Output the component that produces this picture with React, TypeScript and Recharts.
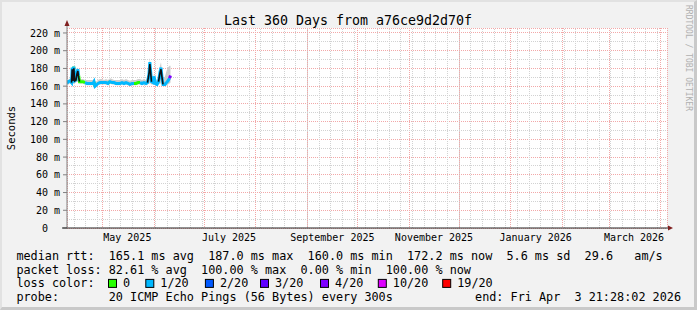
import { Area, CartesianGrid, ComposedChart, Line, ReferenceLine, XAxis, YAxis } from "recharts";

const FONT = "'DejaVu Sans Mono', monospace";
const START = Date.UTC(2025, 3, 9, 19, 0);
const DAY = 86400000;
const toDay = (iso: string) => (Date.parse(iso + "T00:00:00Z") - START) / DAY;

const Y_MAX = 225.6;
const yTicks = [0, 20, 40, 60, 80, 100, 120, 140, 160, 180, 200, 220];
const yMinor = [10, 30, 50, 70, 90, 110, 130, 150, 170, 190, 210];

const monthStarts = [
    "2025-05-01", "2025-06-01", "2025-07-01", "2025-08-01", "2025-09-01", "2025-10-01",
    "2025-11-01", "2025-12-01", "2026-01-01", "2026-02-01", "2026-03-01", "2026-04-01",
];
const labelDates = ["2025-05-16", "2025-07-16", "2025-09-16", "2025-11-16", "2026-01-16", "2026-03-16"];
const xLabels = ["May 2025", "July 2025", "September 2025", "November 2025", "January 2026", "March 2026"];
const firstMonday = "2025-04-14";

const LOSS_LEVELS = ["0", "1/20", "2/20", "3/20", "4/20", "10/20", "19/20"];
const LOSS_COLORS = ["#26ff00", "#00b8ff", "#0059ff", "#5e00ff", "#7e00ff", "#dd00ff", "#ff0000"];

// days since graph start
const sampleDays = [
    0.0, 0.7, 1.8, 2.7, 3.1, 3.6, 4.1, 4.6, 5.4, 6.0, 6.5, 7.0, 7.5, 8.4, 9.6, 10.8, 12.0, 13.2, 14.4, 15.6,
    16.2, 16.8, 17.4, 18.6, 19.8, 21.0, 22.2, 23.4, 24.6, 25.8, 27.0, 28.2, 29.4, 30.6, 31.8, 33.0, 34.2, 35.4,
    36.6, 37.8, 39.0, 40.2, 41.4, 42.6, 43.8, 45.0, 46.2, 47.4, 48.3, 49.2, 49.7, 50.2, 50.7, 51.6, 52.2, 53.1,
    54.0, 54.9, 55.8, 56.4, 57.0, 57.6, 58.8, 59.7, 60.6, 61.5, 62.1,
];
// median rtt, ms
const medianMs = [
    163, 165, 166, 164, 181, 166, 182, 166, 167, 176, 179, 172, 165, 165, 165, 164, 163, 163, 163, 163,
    165, 160, 161, 163, 164, 164, 164, 164, 163, 165, 164, 164, 163, 163, 163, 164, 163, 164,
    163, 162, 163, 163, 163, 164, 164, 163, 164, 163, 164, 174, 187, 176, 165, 164, 171, 163,
    162, 165, 176, 181, 170, 162, 162, 164, 166, 169, 172,
];
// index into LOSS_LEVELS
const lossIdx = [
    1, 1, 1, 1, 1, 1, 0, 1, 1, 1, 1, 1, 0, 0, 0, 0, 1, 1, 1, 1,
    1, 0, 1, 1, 1, 1, 1, 1, 1, 0, 1, 1, 1, 1, 1, 1, 1, 1,
    1, 1, 1, 1, 0, 0, 0, 1, 1, 1, 1, 1, 1, 1, 1, 1, 1, 1,
    1, 1, 1, 1, 1, 1, 1, 1, 1, 1, 4,
];
const smokeLow = [
    161, 162, 163, 162, 162, 163, 163, 163, 164, 165, 165, 164, 163, 163, 163, 162, 161, 161, 161, 161,
    162, 158, 159, 161, 162, 162, 162, 162, 161, 163, 162, 162, 161, 161, 161, 162, 161, 162,
    161, 160, 161, 161, 161, 162, 162, 161, 162, 161, 162, 163, 163, 163, 162, 162, 162, 161,
    160, 162, 163, 163, 162, 160, 160, 161, 162, 163, 164,
];
const smokeHigh = [
    166, 167, 169, 168, 183, 171, 184, 170, 170, 179, 181, 175, 168, 168, 168, 167, 167, 167, 167, 167,
    168, 165, 165, 167, 168, 168, 167, 168, 167, 169, 168, 167, 167, 167, 167, 168, 167, 168,
    167, 166, 167, 167, 167, 168, 168, 167, 168, 167, 169, 179, 192, 181, 170, 169, 174, 168,
    167, 170, 183, 187, 177, 169, 171, 177, 181, 183, 183,
];
// dense (dark) smoke along the spikes
const darkMs = [
    null, null, null, 164, 179, 166, 180, 166, 167, 174, 177, 170, 165, null, null, null, null, null, null, null,
    null, null, null, null, null, null, null, null, null, null, null, null, null, null, null, null, null, null,
    null, null, null, null, null, null, null, null, null, null, 164, 174, 185, 175, 165, null, null, null,
    null, 165, 175, 179, 170, 162, null, null, null, null, null,
];

const rows = sampleDays.map((day, i) => {
    const row: Record<string, unknown> = {
        day,
        smoke: [smokeLow[i], smokeHigh[i]],
        dark: darkMs[i],
    };
    LOSS_LEVELS.forEach((_, l) => {
        row["m" + l] = lossIdx[i] === l || lossIdx[i + 1] === l ? medianMs[i] : null;
    });
    return row;
});
const usedLevels = LOSS_LEVELS.map((_, l) => l).filter((l) => lossIdx.includes(l));

const monthDays = monthStarts.map(toDay);
const labelDays = labelDates.map(toDay);
const weekDays: number[] = [];
for (let d = toDay(firstMonday); d < 360; d += 7) weekDays.push(d);

function XTick({ x, y, payload }: any) {
    const idx = labelDays.indexOf(payload.value);
    return (
        <text x={x} y={y + 13} textAnchor="middle" fontFamily={FONT} fontSize={10} fill="#000">
            {xLabels[idx]}
        </text>
    );
}

const LEG = {
    fontFamily: FONT,
    fontSize: 11.8,
    fill: "#000",
    dominantBaseline: "central",
    xmlSpace: "preserve",
    style: { whiteSpace: "pre" },
} as const;
const ROW_Y = [255.8, 269.6, 283.4, 297.2];
const BOX_X = [108, 145.3, 204.9, 260, 320, 377.8, 442.2];

export default function App() {
    return (
        <div style={{ position: "absolute", left: 0, top: 0, width: 697, height: 310, background: "#f2f2f2" }}>
            <ComposedChart width={697} height={310} data={rows} margin={{ top: 28, right: 30, bottom: 0, left: 0 }}>
                <CartesianGrid fill="#ffffff" horizontal={false} vertical={false} />
                <CartesianGrid
                    xAxisId="months"
                    stroke="#f2a8a8"
                    strokeDasharray="1 1"
                    shapeRendering="crispEdges"
                />
                <XAxis
                    xAxisId="months"
                    dataKey="day"
                    type="number"
                    domain={[0, 360]}
                    ticks={monthDays}
                    interval={0}
                    allowDataOverflow
                    hide
                />
                <XAxis
                    dataKey="day"
                    type="number"
                    domain={[0, 360]}
                    ticks={labelDays}
                    interval={0}
                    allowDataOverflow
                    height={82}
                    tickSize={0}
                    tickMargin={0}
                    tickLine={false}
                    axisLine={{ stroke: "#222" }}
                    tick={<XTick />}
                />
                <YAxis
                    type="number"
                    domain={[0, Y_MAX]}
                    ticks={yTicks}
                    interval={0}
                    allowDataOverflow
                    width={67}
                    tickSize={4}
                    tickMargin={3}
                    axisLine={{ stroke: "#808080" }}
                    tickLine={{ stroke: "#808080" }}
                    tick={{ fontFamily: FONT, fontSize: 10, fill: "#000" }}
                    tickFormatter={(v: number) => (v === 0 ? "0\u00a0\u00a0" : `${v} m`)}
                />
                {weekDays.map((d) => (
                    <ReferenceLine key={"w" + d} x={d} stroke="#d2d2d2" strokeDasharray="1 1" shapeRendering="crispEdges" ifOverflow="hidden" />
                ))}
                {yMinor.map((v) => (
                    <ReferenceLine key={"h" + v} y={v} stroke="#d2d2d2" strokeDasharray="1 1" shapeRendering="crispEdges" ifOverflow="hidden" />
                ))}
                <Area
                    dataKey="smoke"
                    type="linear"
                    fill="#cdcdcd"
                    fillOpacity={1}
                    stroke="none"
                    isAnimationActive={false}
                />
                {usedLevels.map((l) => (
                    <Line
                        key={l}
                        dataKey={"m" + l}
                        type="linear"
                        stroke={LOSS_COLORS[l]}
                        strokeWidth={3}
                        dot={false}
                        connectNulls={false}
                        isAnimationActive={false}
                    />
                ))}
                <Line
                    dataKey="dark"
                    type="linear"
                    stroke="#111111"
                    strokeWidth={1.6}
                    dot={false}
                    connectNulls={false}
                    isAnimationActive={false}
                />
            </ComposedChart>

            <svg width={697} height={310} style={{ position: "absolute", left: 0, top: 0, pointerEvents: "none" }}>
                <text x={348} y={20} textAnchor="middle" dominantBaseline="central" fontFamily={FONT} fontSize={13.3} fill="#000">
                    Last 360 Days from a76ce9d2d70f
                </text>
                <text
                    x={11}
                    y={128}
                    transform="rotate(-90 11 128)"
                    textAnchor="middle"
                    dominantBaseline="central"
                    fontFamily={FONT}
                    fontSize={10.5}
                    fill="#000"
                >
                    Seconds
                </text>
                <text
                    x={688}
                    y={5}
                    transform="rotate(90 688 5)"
                    dominantBaseline="central"
                    fontFamily={FONT}
                    fontSize={8}
                    fill="#b0b0b0"
                >
                    RRDTOOL / TOBI OETIKER
                </text>

                <line x1={67} y1={28} x2={67} y2={24} stroke="#808080" />
                <polygon points="64.5,26 69.5,26 67,20" fill="#7f1f1f" />
                <line x1={62} y1={228} x2={67} y2={228} stroke="#222" />
                <line x1={667} y1={228} x2={669} y2={228} stroke="#222" />
                <polygon points="668,225.5 668,230.5 673,228" fill="#7f1f1f" />

                <text x={16.4} y={ROW_Y[0]} {...LEG}>
                    {"median rtt:  165.1 ms avg  187.0 ms max  160.0 ms min  172.2 ms now  5.6 ms sd  29.6   am/s"}
                </text>
                <text x={16.4} y={ROW_Y[1]} {...LEG}>
                    {"packet loss: 82.61 % avg  100.00 % max  0.00 % min  100.00 % now"}
                </text>
                <text x={16.4} y={ROW_Y[2]} {...LEG}>
                    {"loss color:"}
                </text>
                {LOSS_LEVELS.map((lbl, l) => (
                    <g key={lbl}>
                        <rect x={BOX_X[l] + 0.5} y={ROW_Y[2] - 4} width={8} height={8} fill={LOSS_COLORS[l]} stroke="#000" strokeWidth={1} />
                        <text x={BOX_X[l] + 15} y={ROW_Y[2]} {...LEG}>
                            {lbl}
                        </text>
                    </g>
                ))}
                <text x={16.4} y={ROW_Y[3]} {...LEG}>
                    {"probe:       20 ICMP Echo Pings (56 Bytes) every 300s"}
                </text>
                <text x={681} y={ROW_Y[3]} textAnchor="end" {...LEG}>
                    {"end: Fri Apr  3 21:28:02 2026"}
                </text>
            </svg>

            <div
                style={{
                    position: "absolute",
                    left: 0,
                    top: 0,
                    width: 697,
                    height: 310,
                    boxSizing: "border-box",
                    borderTop: "2px solid #e2e2e2",
                    borderLeft: "2px solid #e2e2e2",
                    borderRight: "3px solid #c9c9c9",
                    borderBottom: "3px solid #c9c9c9",
                    pointerEvents: "none",
                }}
            />
        </div>
    );
}
